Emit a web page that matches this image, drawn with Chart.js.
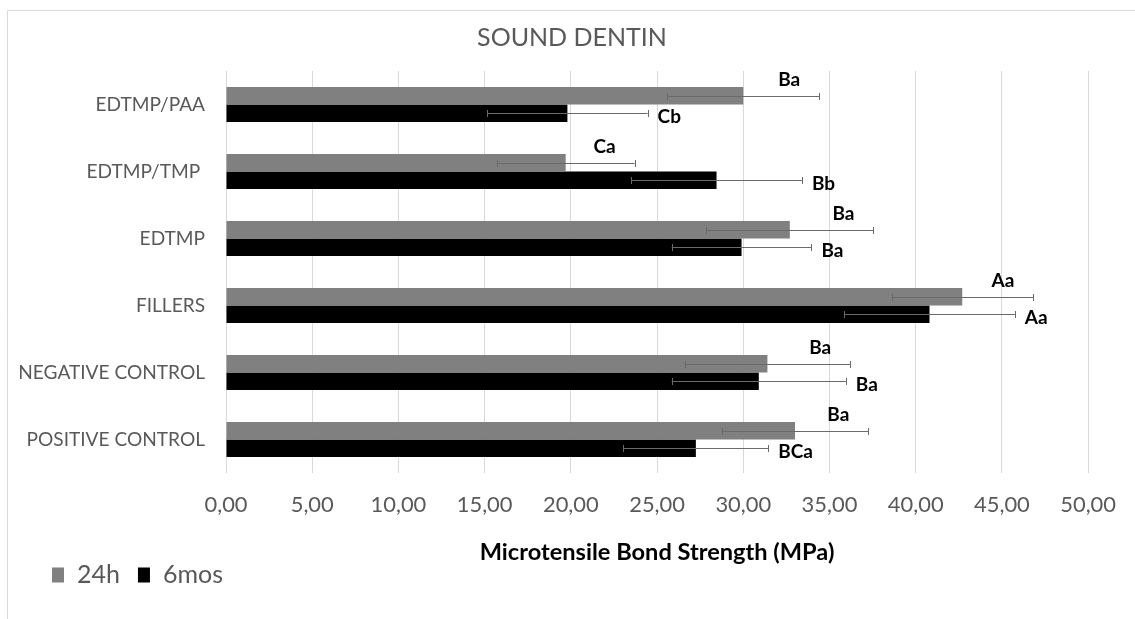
<!DOCTYPE html>
<html><head><meta charset="utf-8">
<script src="https://cdn.jsdelivr.net/npm/chart.js@4/dist/chart.umd.min.js"></script>
<style>html,body{margin:0;padding:0;background:#fff;overflow:hidden}canvas{display:block}</style>
</head><body>
<canvas id="c" width="1135" height="619"></canvas>
<script>
// ---- data ----
const chartTitle = 'SOUND DENTIN';
const axisTitle = 'Microtensile Bond Strength (MPa)';
const categories = ['EDTMP/PAA', 'EDTMP/TMP ', 'EDTMP', 'FILLERS', 'NEGATIVE CONTROL', 'POSITIVE CONTROL'];
const seriesNames = ['24h', '6mos'];
const mean24h  = [30.0, 19.7, 32.7, 42.7, 31.4, 33.0];
const sd24h    = [4.4, 4.0, 4.85, 4.1, 4.8, 4.25];
const mean6mos = [19.8, 28.45, 29.9, 40.8, 30.9, 27.25];
const sd6mos   = [4.65, 4.95, 4.05, 4.95, 5.05, 4.2];
const letters24h  = ['Ba', 'Ca', 'Ba', 'Aa', 'Ba', 'Ba'];
const letters6mos = ['Cb', 'Bb', 'Ba', 'Aa', 'Ba', 'BCa'];
const xMin = 0, xMax = 50, xStep = 5;

// ---- styling helpers ----
const FAMILY = 'Lato, "Open Sans", "DejaVu Sans", sans-serif';
const mctx = document.createElement('canvas').getContext('2d');
function fitSize(text, target, weight) {
  mctx.font = (weight || 'normal') + ' 100px ' + FAMILY;
  return Math.round(100 * target / mctx.measureText(text).width * 10) / 10;
}
const titleSize  = fitSize(chartTitle, 190);
const yTickSize  = fitSize('NEGATIVE CONTROL', 187);
const xTickSize  = fitSize('0,00', 43);
const axTitleSize = fitSize(axisTitle, 355, 'bold');
const legendSize = fitSize('24h', 43);
const letterSize = fitSize('Ba', 22, 'bold');

const GRAY_TEXT = '#595959';
const axLH = axTitleSize * 1.2;

const errorBars = {
  id: 'errorBars',
  afterDatasetsDraw(chart) {
    const ctx = chart.ctx, xs = chart.scales.x;
    const sds = [sd24h, sd6mos];
    const letters = [letters24h, letters6mos];
    ctx.save();
    chart.data.datasets.forEach((ds, di) => {
      const meta = chart.getDatasetMeta(di);
      meta.data.forEach((el, i) => {
        const m = ds.data[i], s = sds[di][i];
        const lo = xs.getPixelForValue(m - s), hi = xs.getPixelForValue(m + s);
        const y = Math.round(el.y) + 0.5;
        ctx.strokeStyle = '#6a6a6a';
        ctx.lineWidth = 1;
        ctx.beginPath();
        ctx.moveTo(lo, y); ctx.lineTo(hi, y);
        ctx.moveTo(Math.round(lo) + 0.5, y - 3.5); ctx.lineTo(Math.round(lo) + 0.5, y + 3.5);
        ctx.moveTo(Math.round(hi) + 0.5, y - 3.5); ctx.lineTo(Math.round(hi) + 0.5, y + 3.5);
        ctx.stroke();
        ctx.fillStyle = '#000';
        ctx.font = 'bold ' + letterSize + 'px ' + FAMILY;
        ctx.textBaseline = 'middle';
        const top = el.y - el.height / 2;
        if (di === 0) {
          ctx.textAlign = 'center';
          ctx.fillText(letters[di][i], hi - 30, top - 7);
        } else {
          ctx.textAlign = 'left';
          ctx.fillText(letters[di][i], hi + 10, el.y + 4);
        }
      });
    });
    ctx.restore();
  }
};

const frameTitleLegend = {
  id: 'frameTitleLegend',
  beforeDraw(chart) {
    const ctx = chart.ctx;
    ctx.save();
    ctx.fillStyle = '#fff';
    ctx.fillRect(0, 0, chart.width, chart.height);
    ctx.strokeStyle = '#d9d9d9';
    ctx.lineWidth = 1;
    ctx.beginPath();
    ctx.moveTo(7.5, chart.height); ctx.lineTo(7.5, 10.5); ctx.lineTo(chart.width, 10.5);
    ctx.stroke();
    ctx.restore();
  },
  afterDraw(chart) {
    const ctx = chart.ctx;
    ctx.save();
    // title
    ctx.font = titleSize + 'px ' + FAMILY;
    ctx.fillStyle = GRAY_TEXT;
    ctx.textAlign = 'center';
    ctx.textBaseline = 'middle';
    ctx.fillText(chartTitle, 572, 38);
    // legend
    ctx.font = legendSize + 'px ' + FAMILY;
    ctx.textAlign = 'left';
    let x = 52;
    const yc = 575;
    chart.data.datasets.forEach(ds => {
      ctx.fillStyle = ds.backgroundColor;
      ctx.fillRect(x, yc - 7.5, 12, 15);
      ctx.fillStyle = GRAY_TEXT;
      ctx.fillText(ds.label, x + 25, yc);
      x += 25 + ctx.measureText(ds.label).width + 18;
    });
    ctx.restore();
  }
};

new Chart(document.getElementById('c'), {
  type: 'bar',
  data: {
    labels: categories,
    datasets: [
      { label: seriesNames[0], data: mean24h, backgroundColor: '#808080', borderWidth: 0 },
      { label: seriesNames[1], data: mean6mos, backgroundColor: '#000000', borderWidth: 0 }
    ]
  },
  options: {
    indexAxis: 'y',
    responsive: false,
    animation: false,
    devicePixelRatio: 1,
    layout: { padding: { top: 71, left: 8, right: 37, bottom: 0 } },
    datasets: { bar: { categoryPercentage: 0.52, barPercentage: 1.0 } },
    plugins: {
      legend: { display: false },
      tooltip: { enabled: false },
      title: { display: false }
    },
    scales: {
      x: {
        type: 'linear',
        min: xMin, max: xMax,
        ticks: {
          stepSize: xStep,
          color: GRAY_TEXT,
          font: { family: FAMILY, size: xTickSize },
          padding: 19,
          callback: v => v.toFixed(2).replace('.', ',')
        },
        grid: { color: '#d9d9d9', lineWidth: 1, drawTicks: false },
        border: { display: false },
        title: {
          display: true,
          text: axisTitle,
          color: '#000',
          font: { family: FAMILY, size: axTitleSize, weight: 'bold', lineHeight: 1.2 },
          padding: { top: 0, bottom: 67 - axLH / 2 }
        },
        afterFit(scale) { scale.height = 619 - 473; }
      },
      y: {
        ticks: {
          color: GRAY_TEXT,
          font: { family: FAMILY, size: yTickSize },
          padding: 21
        },
        grid: { display: false, drawTicks: false },
        border: { display: false },
        afterFit(scale) { scale.width = 226 - 8; }
      }
    }
  },
  plugins: [frameTitleLegend, errorBars]
});
</script>
</body></html>
